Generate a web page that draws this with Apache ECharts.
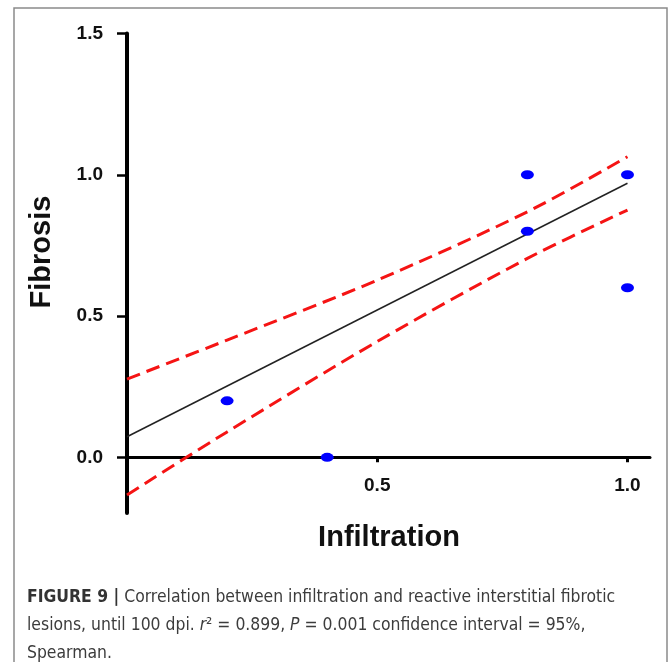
<!DOCTYPE html>
<html>
<head>
<meta charset="utf-8">
<script src="https://cdn.jsdelivr.net/npm/echarts@6/dist/echarts.min.js"></script>
<style>
  html, body { margin: 0; padding: 0; background: #fff; }
  #chart { width: 672px; height: 662px; }
</style>
</head>
<body>
<div id="chart"></div>
<script>
// values
const infiltration = [0.2, 0.4, 0.8, 0.8, 1.0, 1.0];
const fibrosis = [0.2, 0.0, 1.0, 0.8, 1.0, 0.6];
const fitX = [0, 1.0];
const fitY = [0.073, 0.97];
const bandX = [0, 0.2, 0.5, 0.8, 1.0];
const upperY = [0.277, 0.415, 0.627, 0.869, 1.064];
const lowerY = [-0.133, 0.09, 0.41, 0.704, 0.875];
const xTicks = [0.5, 1.0];
const yTicks = [0, 0.5, 1.0, 1.5];

const zip = (xs, ys) => xs.map((x, i) => [x, ys[i]]);

const capFont = '"DejaVu Sans Condensed", "Liberation Sans", sans-serif';
const axisFont = '"Liberation Sans", Arial, sans-serif';
const capSize = 17.4;

let myChart = echarts.init(document.getElementById('chart'));
myChart.setOption({
  animation: false,
  backgroundColor: '#fff',
  grid: {
    left: 127,
    right: 22,
    top: 33.5,
    bottom: 149,
    outerBoundsMode: 'none'
  },
  xAxis: {
    type: 'value',
    min: 0,
    max: 1.045,
    // x axis sits on fibrosis = 0, about 56px above the grid bottom
    offset: -55.7,
    splitLine: { show: false },
    axisLine: { onZero: false, lineStyle: { color: '#000', width: 3 } },
    axisTick: { customValues: xTicks, length: 5, lineStyle: { color: '#000', width: 3 } },
    axisLabel: {
      customValues: xTicks,
      margin: 19,
      color: '#111',
      fontSize: 19,
      fontWeight: 'bold',
      fontFamily: axisFont,
      formatter: v => v.toFixed(1)
    }
  },
  yAxis: {
    type: 'value',
    min: -0.197,
    max: 1.5,
    splitLine: { show: false },
    axisLine: { onZero: false, lineStyle: { color: '#000', width: 4 } },
    axisTick: { customValues: yTicks, length: 10, lineStyle: { color: '#000', width: 2.5 } },
    axisLabel: {
      customValues: yTicks,
      margin: 24,
      color: '#111',
      fontSize: 19,
      fontWeight: 'bold',
      fontFamily: axisFont,
      formatter: v => v.toFixed(1)
    }
  },
  series: [
    {
      name: 'upper 95%',
      type: 'line',
      data: zip(bandX, upperY),
      smooth: 0.3,
      showSymbol: false,
      lineStyle: { color: '#f51414', width: 3, type: [14, 7] },
      z: 2
    },
    {
      name: 'lower 95%',
      type: 'line',
      data: zip(bandX, lowerY),
      smooth: 0.3,
      showSymbol: false,
      lineStyle: { color: '#f51414', width: 3, type: [14, 7] },
      z: 2
    },
    {
      name: 'fit',
      type: 'line',
      data: zip(fitX, fitY),
      showSymbol: false,
      lineStyle: { color: '#222', width: 1.5 },
      z: 3
    },
    {
      name: 'data',
      type: 'scatter',
      data: zip(infiltration, fibrosis),
      symbol: 'circle',
      symbolSize: [13, 9],
      itemStyle: { color: '#0000ff', opacity: 1 },
      z: 4
    }
  ],
  graphic: [
    {
      type: 'rect',
      shape: { x: 14, y: 8, width: 653, height: 700 },
      style: { fill: 'none', stroke: '#8a8a8a', lineWidth: 1.5 },
      silent: true
    },
    {
      type: 'text',
      x: 42,
      y: 252,
      rotation: Math.PI / 2,
      style: {
        text: 'Fibrosis',
        fill: '#111',
        font: 'bold 29px ' + axisFont,
        textAlign: 'center',
        textVerticalAlign: 'middle'
      }
    },
    {
      type: 'text',
      x: 389,
      y: 538,
      style: {
        text: 'Infiltration',
        fill: '#111',
        font: 'bold 29px ' + axisFont,
        textAlign: 'center',
        textVerticalAlign: 'middle'
      }
    },
    {
      type: 'text',
      x: 27,
      y: 597,
      style: {
        text: '{b|FIGURE 9 |} Correlation between infiltration and reactive interstitial fibrotic',
        fill: '#3c3c3c',
        font: capSize + 'px ' + capFont,
        textVerticalAlign: 'middle',
        rich: {
          b: { fontWeight: 'bold', fill: '#333', fontSize: capSize, fontFamily: capFont }
        }
      }
    },
    {
      type: 'text',
      x: 27,
      y: 625,
      style: {
        text: 'lesions, until 100 dpi. {i|r}²{n| = 0.899, }{i|P}{n| = 0.001 confidence interval = 95%,}',
        fill: '#3c3c3c',
        font: capSize + 'px ' + capFont,
        textVerticalAlign: 'middle',
        rich: {
          i: { fontStyle: 'italic', fontSize: capSize, fontFamily: capFont, fill: '#3c3c3c' },
          n: { fontSize: capSize, fontFamily: capFont, fill: '#3c3c3c' }
        }
      }
    },
    {
      type: 'text',
      x: 27,
      y: 653,
      style: {
        text: 'Spearman.',
        fill: '#3c3c3c',
        font: capSize + 'px ' + capFont,
        textVerticalAlign: 'middle'
      }
    }
  ]
});
</script>
</body>
</html>
